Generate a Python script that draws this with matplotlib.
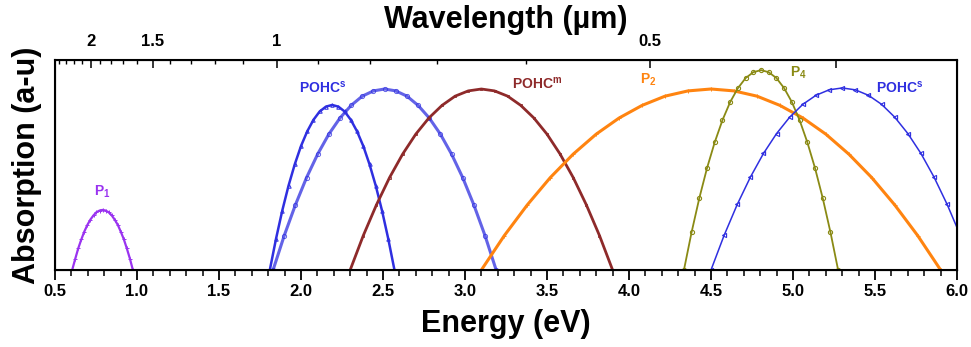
import numpy as np
import matplotlib.pyplot as plt
from matplotlib.ticker import MultipleLocator

plt.rcParams['font.family'] = ['Liberation Sans', 'DejaVu Sans']
plt.rcParams['mathtext.fontset'] = 'custom'
plt.rcParams['mathtext.bf'] = 'Liberation Sans:bold'
plt.rcParams['mathtext.rm'] = 'Liberation Sans'

# --- dane (energia w eV, absorpcja w j.u.) ---
p1_e = [0.605, 0.624, 0.642, 0.661, 0.679, 0.698, 0.716, 0.735, 0.753, 0.772, 0.790,
        0.809, 0.827, 0.846, 0.864, 0.883, 0.901, 0.920, 0.938, 0.957, 0.975]
p1_a = [0, 0.054, 0.103, 0.146, 0.183, 0.215, 0.240, 0.260, 0.275, 0.283, 0.286,
        0.283, 0.275, 0.260, 0.240, 0.215, 0.183, 0.146, 0.103, 0.054, 0]

pohc_s1_e = [1.810, 1.848, 1.886, 1.924, 1.962, 2.000, 2.038, 2.076, 2.114, 2.152, 2.190,
             2.228, 2.266, 2.304, 2.342, 2.380, 2.418, 2.456, 2.494, 2.532, 2.570]
pohc_s1_a = [0, 0.149, 0.283, 0.401, 0.503, 0.590, 0.660, 0.715, 0.755, 0.778, 0.786,
             0.778, 0.755, 0.715, 0.660, 0.590, 0.503, 0.401, 0.283, 0.149, 0]

pohc_s2_e = [1.830, 1.898, 1.966, 2.034, 2.102, 2.170, 2.238, 2.306, 2.374, 2.442, 2.510,
             2.578, 2.646, 2.714, 2.782, 2.850, 2.918, 2.986, 3.054, 3.122, 3.190]
pohc_s2_a = [0, 0.164, 0.310, 0.440, 0.552, 0.647, 0.724, 0.784, 0.828, 0.853, 0.862,
             0.853, 0.828, 0.784, 0.724, 0.647, 0.552, 0.440, 0.310, 0.164, 0]

pohc_m_e = [2.30, 2.38, 2.46, 2.54, 2.62, 2.70, 2.78, 2.86, 2.94, 3.02, 3.10,
            3.18, 3.26, 3.34, 3.42, 3.50, 3.58, 3.66, 3.74, 3.82, 3.90]
pohc_m_a = [0, 0.164, 0.310, 0.440, 0.552, 0.647, 0.724, 0.784, 0.828, 0.853, 0.862,
            0.853, 0.828, 0.784, 0.724, 0.647, 0.552, 0.440, 0.310, 0.164, 0]

p2_e = [3.10, 3.24, 3.38, 3.52, 3.66, 3.80, 3.94, 4.08, 4.22, 4.36, 4.50,
        4.64, 4.78, 4.92, 5.06, 5.20, 5.34, 5.48, 5.62, 5.76, 5.90]
p2_a = [0, 0.164, 0.310, 0.440, 0.552, 0.647, 0.724, 0.784, 0.828, 0.853, 0.862,
        0.853, 0.828, 0.784, 0.724, 0.647, 0.552, 0.440, 0.310, 0.164, 0]

p4_e = [4.335, 4.382, 4.429, 4.476, 4.523, 4.570, 4.617, 4.664, 4.711, 4.758, 4.805,
        4.852, 4.899, 4.946, 4.993, 5.040, 5.087, 5.134, 5.181, 5.228, 5.275]
p4_a = [0, 0.181, 0.343, 0.486, 0.609, 0.714, 0.800, 0.866, 0.914, 0.942, 0.952,
        0.942, 0.914, 0.866, 0.800, 0.714, 0.609, 0.486, 0.343, 0.181, 0]

pohc_s3_e = [4.50, 4.58, 4.66, 4.74, 4.82, 4.90, 4.98, 5.06, 5.14, 5.22, 5.30,
             5.38, 5.46, 5.54, 5.62, 5.70, 5.78, 5.86, 5.94, 6.02]
pohc_s3_a = [0, 0.165, 0.312, 0.442, 0.555, 0.650, 0.728, 0.789, 0.832, 0.858, 0.867,
             0.858, 0.832, 0.789, 0.728, 0.650, 0.555, 0.442, 0.312, 0.165]

# os gorna - dlugosc fali (um)
wl_major = [2, 1.5, 1, 0.5, 0.4]
wl_labels = ['2', '1.5', '1', '0.5', '']
wl_minor = [2.4, 2.3, 2.2, 2.1, 1.9, 1.8, 1.7, 1.6, 1.4, 1.3, 1.2, 1.1,
            0.9, 0.8, 0.7, 0.6]

fioletowy = '#9a33f0'
niebieski = '#2f2fe0'
brazowy = '#8e2a2a'
pomaranczowy = '#ff8410'
oliwkowy = '#8a8a14'

fig = plt.figure(figsize=(9.71, 3.47), dpi=100)
ax = fig.add_axes([0.0566, 0.222, 0.9290, 0.605])

ax.plot(p1_e, p1_a, color=fioletowy, lw=1.6, marker='+', ms=3, mew=0.7)
ax.plot(pohc_s1_e, pohc_s1_a, color=niebieski, lw=1.8, marker='^', ms=2.5,
        mfc='none', mew=0.7)
ax.plot(pohc_s2_e, pohc_s2_a, color=niebieski, lw=2.2, marker='o', ms=3,
        mfc='none', mew=0.7, alpha=0.75)
ax.plot(pohc_m_e, pohc_m_a, color=brazowy, lw=2.0, marker='s', ms=2,
        mfc='none', mew=0.6)
ax.plot(p2_e, p2_a, color=pomaranczowy, lw=2.2, marker='+', ms=2.5, mew=0.7)
ax.plot(p4_e, p4_a, color=oliwkowy, lw=1.3, marker='o', ms=3, mfc='none', mew=0.8)
ax.plot(pohc_s3_e, pohc_s3_a, color=niebieski, lw=1.1, marker='<', ms=3,
        mfc='none', mew=0.8)

ax.set_xlim(0.5, 6.0)
ax.set_ylim(0, 1)
ax.set_yticks([])
ax.xaxis.set_major_locator(MultipleLocator(0.5))
ax.xaxis.set_minor_locator(MultipleLocator(0.1))
ax.xaxis.set_major_formatter(plt.FormatStrFormatter('%.1f'))
ax.tick_params(axis='x', which='major', direction='out', length=7, width=1.3,
               labelsize=12, pad=3)
ax.tick_params(axis='x', which='minor', direction='out', length=4, width=1.1)
for lab in ax.get_xticklabels():
    lab.set_fontweight('bold')
for s in ax.spines.values():
    s.set_linewidth(1.5)

# gorna os: E = 2.274/lambda - 0.42 (skala z rysunku)
top = ax.twiny()
top.set_xlim(ax.get_xlim())
top.set_xticks([2.274 / w - 0.42 for w in wl_major])
top.set_xticklabels(wl_labels, fontsize=12, fontweight='bold')
top.set_xticks([2.274 / w - 0.42 for w in wl_minor], minor=True)
top.tick_params(axis='x', which='major', direction='in', length=6, width=1.1, pad=8)
top.tick_params(axis='x', which='minor', direction='in', length=3, width=1.0)

ax.set_xlabel('Energy (eV)', fontsize=22, fontweight='bold', labelpad=7)
ax.set_ylabel('Absorption (a-u)', fontsize=22, fontweight='bold', labelpad=9)
top.set_xlabel('Wavelength (µm)', fontsize=22, fontweight='bold', labelpad=4)

etyk = dict(fontsize=10, fontweight='bold', ha='center', va='center')
ax.text(0.787, 0.371, r'P$_\mathbf{1}$', color=fioletowy, **etyk)
ax.text(2.13, 0.871, r'POHC$^\mathbf{s}$', color=niebieski, **etyk)
ax.text(3.44, 0.886, r'POHC$^\mathbf{m}$', color=brazowy, **etyk)
ax.text(4.12, 0.905, r'P$_\mathbf{2}$', color=pomaranczowy, **etyk)
ax.text(5.03, 0.938, r'P$_\mathbf{4}$', color=oliwkowy, **etyk)
ax.text(5.65, 0.871, r'POHC$^\mathbf{s}$', color=niebieski, **etyk)

plt.savefig('out.png', dpi=100)
